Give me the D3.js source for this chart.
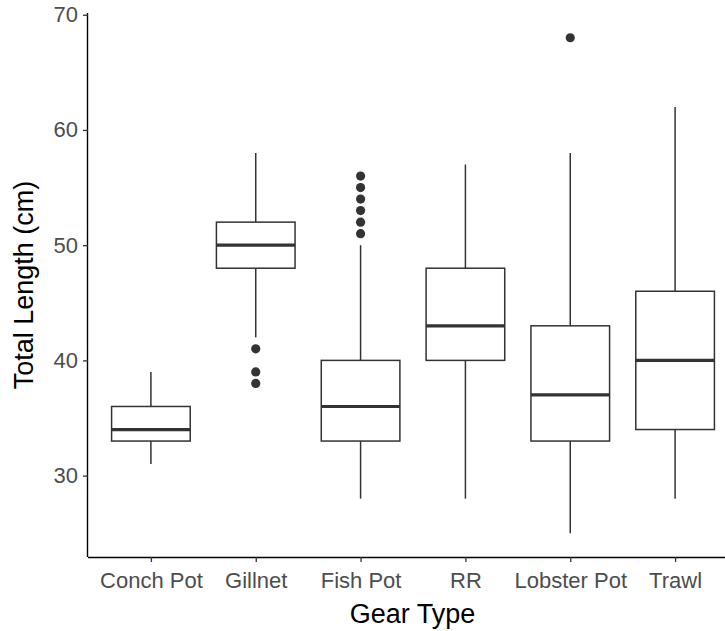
<!DOCTYPE html>
<meta charset="utf-8">
<style>
    body {
        margin: 0;
        background: #fff;
        font-family: "Liberation Sans", Arial, sans-serif;
    }

    .tick-label {
        fill: #4d4d4d;
        font-size: 22px;
    }

    .axis-title {
        fill: #000;
        font-size: 27px;
    }
</style>

<body>
    <script src="https://cdn.jsdelivr.net/npm/d3@7"></script>

    <script>

        var categories = ["Conch Pot", "Gillnet", "Fish Pot", "RR", "Lobster Pot", "Trawl"];
        var whiskerLow = [31, 42, 28, 28, 25, 28];
        var q1 = [33, 48, 33, 40, 33, 34];
        var medians = [34, 50, 36, 43, 37, 40];
        var q3 = [36, 52, 40, 48, 43, 46];
        var whiskerHigh = [39, 58, 50, 57, 58, 62];
        var outliers = [[], [41, 39, 38], [51, 52, 53, 54, 55, 56], [], [68], []];
        var yTicks = [30, 40, 50, 60, 70];

        var width = 725,
            height = 631,
            margin = { top: 13, left: 88, bottom: 74 };

        var plotBottom = height - margin.bottom;

        var boxes = categories.map(function (c, i) {
            return {
                name: c, lo: whiskerLow[i], q1: q1[i], med: medians[i],
                q3: q3[i], hi: whiskerHigh[i], out: outliers[i]
            };
        });

        // ggplot style expansion: 5% of the data range each side
        var allVals = d3.merge(boxes.map(function (d) { return [d.lo, d.hi].concat(d.out); }));
        var ext = d3.extent(allVals);
        var pad = (ext[1] - ext[0]) * 0.05;

        var y = d3.scaleLinear()
            .domain([ext[0] - pad, ext[1] + pad])
            .range([plotBottom + 1, margin.top]);

        // discrete axis, 0.6 units of padding each side
        var x = d3.scalePoint()
            .domain(categories)
            .range([margin.left, margin.left + 650])
            .padding(0.6);

        var boxW = x.step() * 0.75;

        var svg = d3.select("body").append("svg")
            .attr("width", width)
            .attr("height", height);

        var g = svg.selectAll("g.box")
            .data(boxes)
            .enter().append("g")
            .attr("class", "box")
            .attr("stroke", "#333")
            .attr("stroke-width", 1.5);

        // whiskers
        g.append("line")
            .attr("x1", function (d) { return x(d.name); })
            .attr("x2", function (d) { return x(d.name); })
            .attr("y1", function (d) { return y(d.hi); })
            .attr("y2", function (d) { return y(d.q3); });

        g.append("line")
            .attr("x1", function (d) { return x(d.name); })
            .attr("x2", function (d) { return x(d.name); })
            .attr("y1", function (d) { return y(d.q1); })
            .attr("y2", function (d) { return y(d.lo); });

        g.append("rect")
            .attr("x", function (d) { return x(d.name) - boxW / 2; })
            .attr("width", boxW)
            .attr("y", function (d) { return y(d.q3); })
            .attr("height", function (d) { return y(d.q1) - y(d.q3); })
            .attr("fill", "#fff");

        g.append("line")
            .attr("x1", function (d) { return x(d.name) - boxW / 2; })
            .attr("x2", function (d) { return x(d.name) + boxW / 2; })
            .attr("y1", function (d) { return y(d.med); })
            .attr("y2", function (d) { return y(d.med); })
            .attr("stroke-width", 3.2);

        g.selectAll("circle")
            .data(function (d) { return d.out.map(function (v) { return { name: d.name, v: v }; }); })
            .enter().append("circle")
            .attr("cx", function (d) { return x(d.name); })
            .attr("cy", function (d) { return y(d.v); })
            .attr("r", 4.6)
            .attr("fill", "#333")
            .attr("stroke", "none");

        // axes (theme_classic look)
        var yAxis = svg.append("g")
            .attr("transform", "translate(" + margin.left + ",0)")
            .call(d3.axisLeft(y).tickValues(yTicks).tickSize(5).tickPadding(5));

        var xAxis = svg.append("g")
            .attr("transform", "translate(0," + plotBottom + ")")
            .call(d3.axisBottom(x).tickSize(5).tickPadding(10));

        [xAxis, yAxis].forEach(function (a) {
            a.select(".domain").attr("stroke", "#000").attr("stroke-width", 1.4);
            a.selectAll(".tick line").attr("stroke", "#333").attr("stroke-width", 1.3);
            a.selectAll(".tick text").attr("class", "tick-label").attr("font-family", null).attr("font-size", null);
        });
        xAxis.select(".domain").attr("d", "M" + margin.left + ",0.5H" + width);
        yAxis.select(".domain").attr("d", "M-0.5," + plotBottom + "V" + margin.top);

        svg.append("text")
            .attr("class", "axis-title")
            .attr("x", (margin.left + width) / 2 + 6)
            .attr("y", height - 8)
            .attr("text-anchor", "middle")
            .text("Gear Type");

        svg.append("text")
            .attr("class", "axis-title")
            .attr("transform", "translate(33," + (margin.top + plotBottom) / 2 + ") rotate(-90)")
            .attr("text-anchor", "middle")
            .text("Total Length (cm)");

    </script>

</body>

</html>
